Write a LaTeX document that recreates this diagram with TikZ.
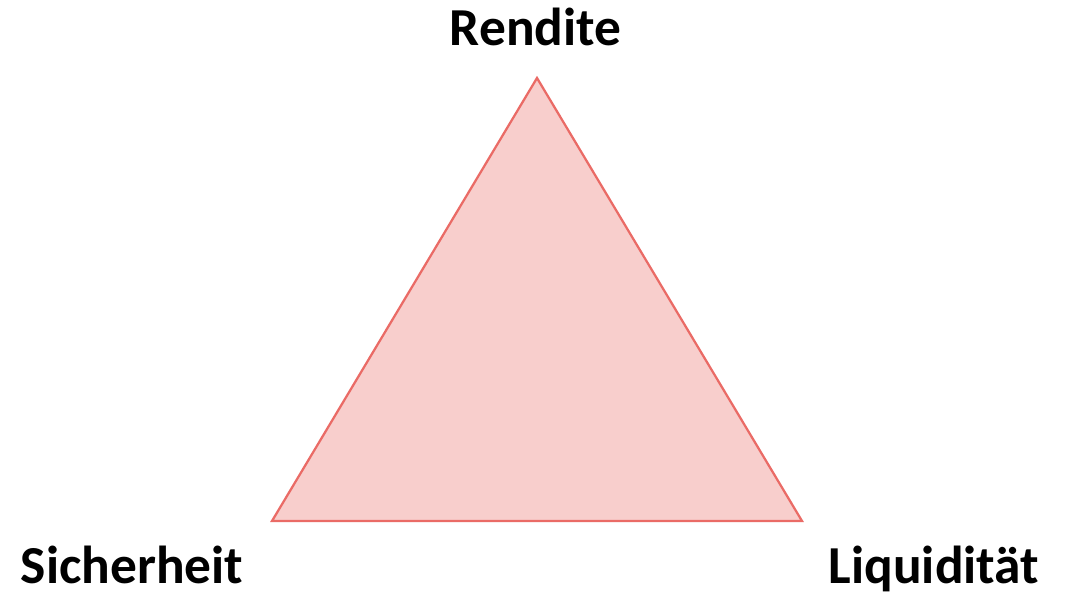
\documentclass[tikz,border=0pt]{standalone}
\usepackage{fontspec}
\setmainfont{Carlito}
\definecolor{TriFill}{HTML}{F8CECC}
\definecolor{TriLine}{HTML}{EA6B66}

\begin{document}
\begin{tikzpicture}[
    corner/.style={
        anchor=base,
        inner sep=0pt,
        font=\fontsize{38}{40}\selectfont\bfseries
    }
]
\useasboundingbox (0,0) rectangle (26.725,14.8);

% Corners of the triangle
\coordinate (top) at (13.425,12.85);
\coordinate (left) at (6.8,1.775);
\coordinate (right) at (20.05,1.775);

% Triangle
\draw[TriLine, fill=TriFill, line width=1.6pt, line join=miter]
    (top) -- (left) -- (right) -- cycle;

% Labels
\node[corner] (rendite) at (13.39,13.65) {Rendite};
\node[corner] (sicherheit) at (3.3,0.225) {Sicherheit};
\node[corner] (liquiditaet) at (23.35,0.225) {Liquidität};

\end{tikzpicture}
\end{document}
